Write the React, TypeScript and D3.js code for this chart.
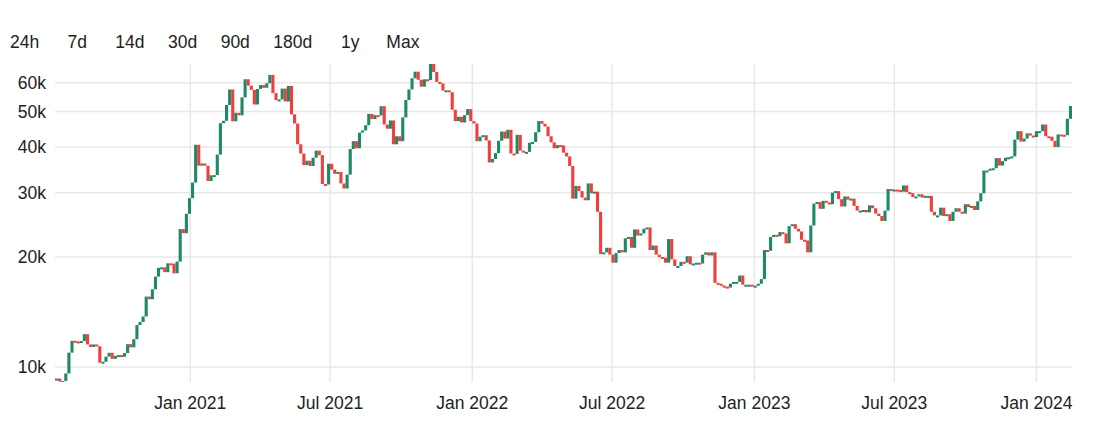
import React from "react";
import * as d3 from "d3";

// ---- data ----
const startDate = "2020-07-12"; // timestamp of first 4-day candle
const stepDays = 4;
const firstOpen = 9250;
// 4-day candle closes (USD); each candle opens at the previous close
const closes = [
  9300, 9130, 9160, 9600, 10950, 11800, 11750, 11680, 11780, 12300,
  11530, 11350, 11530, 11400, 10280, 10340, 10680, 10940, 10530, 10730,
  10780, 10670, 10920, 11550, 11320, 11920, 13030, 13280, 13750, 15590,
  15330, 16320, 17680, 18680, 18740, 18180, 19220, 19190, 18050, 19430,
  23850, 23240, 26270, 28990, 31970, 40580, 35570, 36070, 35550, 32290,
  33470, 33520, 38140, 46480, 47180, 52150, 57500, 47050, 49630, 48860,
  54700, 61300, 58900, 57350, 52300, 57700, 59100, 58100, 59800, 63000,
  56200, 53800, 54000, 57800, 53300, 58800, 49150, 46400, 40700, 38400,
  35700, 36700, 35500, 37400, 39100, 38000, 31700, 31600, 36000, 34700,
  33800, 34200, 31800, 30800, 33600, 39500, 41500, 39700, 43800, 44400,
  45900, 49300, 47700, 48900, 48800, 51750, 46100, 44900, 47300, 40700,
  42800, 41500, 48200, 53800, 57500, 61700, 64300, 61100, 58500, 61300,
  61000, 67500, 64200, 60300, 59700, 57100, 57200, 56500, 50600, 47100,
  48400, 46700, 48900, 50800, 47100, 46400, 41500, 42700, 43100, 41700,
  36300, 37100, 38500, 41600, 44100, 42200, 44600, 38400, 38300, 43200,
  39100, 38700, 38800, 41100, 41300, 43900, 47100, 46300, 45500, 42800,
  41200, 39700, 40500, 40400, 38600, 37700, 35500, 28900, 31300, 30300,
  29100, 28600, 31800, 29900, 30200, 26600, 20400, 20600, 21200, 20300,
  19300, 20500, 20900, 20600, 22500, 22700, 21200, 23800, 22900, 23200,
  23900, 24100, 20900, 21500, 20300, 20000, 19900, 19300, 22400, 19700,
  18900, 18900, 19400, 19300, 20100, 19100, 19200, 19300, 19200, 20300,
  20600, 20200, 20600, 17000, 16900, 16700, 16600, 16500, 16900, 17100,
  17100, 17800, 16800, 16800, 16800, 16600, 16700, 16900, 17400, 20900,
  20800, 22700, 23000, 22800, 23400, 23200, 21800, 24300, 24600, 23900,
  23500, 22300, 22200, 20600, 24400, 28000, 28300, 27100, 28500, 28200,
  27900, 30000, 30300, 28800, 27500, 29300, 28700, 28900, 27600, 26800,
  26800, 26900, 26500, 27700, 27200, 26300, 25900, 25100, 26800, 30700,
  30300, 30600, 30500, 30200, 31400, 30100, 29900, 29200, 29300, 29700,
  29100, 29400, 29400, 26600, 26000, 26000, 27300, 25900, 26200, 25100,
  26600, 27200, 26600, 26300, 27900, 27400, 27600, 26900, 28400, 29900,
  34500, 34500, 34900, 35000, 37300, 35600, 36600, 37400, 37500, 37700,
  41900, 44200, 41400, 42200, 43600, 43000, 42600, 44200, 44200, 46100,
  42800, 42700, 41600, 40000, 43300, 43200, 43100, 47800, 51800,
];
const yTicks = [10000, 20000, 30000, 40000, 50000, 60000];
const xTickDates = ["2021-01-01", "2021-07-01", "2022-01-01", "2022-07-01", "2023-01-01", "2023-07-01", "2024-01-01"];
const xTickLabels = ["Jan 2021", "Jul 2021", "Jan 2022", "Jul 2022", "Jan 2023", "Jul 2023", "Jan 2024"];
const rangeLabels = ["24h", "7d", "14d", "30d", "90d", "180d", "1y", "Max"];
const yDomain = [9100, 67500];
const xDomain = ["2020-07-10", "2024-02-16"];

// ---- layout ----
const W = 1093;
const H = 425;
const M = { left: 55, right: 1072, top: 64, bottom: 382 };
const FONT = '"Liberation Sans", Arial, Helvetica, sans-serif';
const FS = 17.5;
const UP = "#1e8a65";
const DOWN = "#f23d3d";
const GRID = "#e8e8e8";

export default function App() {
  const x = d3
    .scaleUtc()
    .domain(xDomain.map((d) => new Date(d + "T00:00:00Z")))
    .range([M.left, M.right]);
  const y = d3.scaleLog().domain(yDomain).range([M.bottom, M.top]);

  const t0 = new Date(startDate + "T00:00:00Z");
  const candles = closes.map((c, i) => ({
    date: d3.utcDay.offset(t0, i * stepDays),
    open: i === 0 ? firstOpen : closes[i - 1],
    close: c,
  }));
  const barW = x(d3.utcDay.offset(t0, stepDays)) - x(t0);

  // range buttons
  const btnWidths = rangeLabels.map((l) => Math.max(52.5, l.length * 9.73 + 23.5));
  let acc = 24.7 - btnWidths[0] / 2;
  const btnCenters = btnWidths.map((w) => {
    const c = acc + w / 2;
    acc += w;
    return c;
  });

  return (
    <svg
      width={W}
      height={H}
      style={{ position: "absolute", left: 0, top: 0, background: "#fff" }}
      fontFamily={FONT}
    >
      {rangeLabels.map((l, i) => (
        <text key={l} x={btnCenters[i]} y={48} textAnchor="middle" fontSize={FS} fill="#222">
          {l}
        </text>
      ))}
      <defs>
        <clipPath id="plot">
          <rect x={M.left} y={M.top} width={M.right - M.left} height={M.bottom - M.top} />
        </clipPath>
      </defs>
      {yTicks.map((t) => (
        <line key={t} x1={M.left} x2={M.right} y1={y(t)} y2={y(t)} stroke={GRID} strokeWidth={1.5} />
      ))}
      {xTickDates.map((d) => {
        const xx = x(new Date(d + "T00:00:00Z"));
        return <line key={d} x1={xx} x2={xx} y1={M.top} y2={M.bottom} stroke={GRID} strokeWidth={1.5} />;
      })}
      <g clipPath="url(#plot)">
        {candles.map((c, i) => {
          const y1 = y(Math.max(c.open, c.close));
          const y2 = y(Math.min(c.open, c.close));
          const h = Math.max(2, y2 - y1);
          return (
            <rect
              key={i}
              x={x(c.date) - barW / 2}
              y={y1}
              width={barW}
              height={h}
              fill={c.close >= c.open ? UP : DOWN}
            />
          );
        })}
      </g>
      {yTicks.map((t) => (
        <text key={t} x={46} y={y(t)} dy="0.35em" textAnchor="end" fontSize={FS} fill="#222">
          {d3.format("~s")(t).replace("k", "") + "k"}
        </text>
      ))}
      {xTickDates.map((d, i) => (
        <text key={d} x={x(new Date(d + "T00:00:00Z"))} y={409} textAnchor="middle" fontSize={FS} fill="#222">
          {xTickLabels[i]}
        </text>
      ))}
    </svg>
  );
}
